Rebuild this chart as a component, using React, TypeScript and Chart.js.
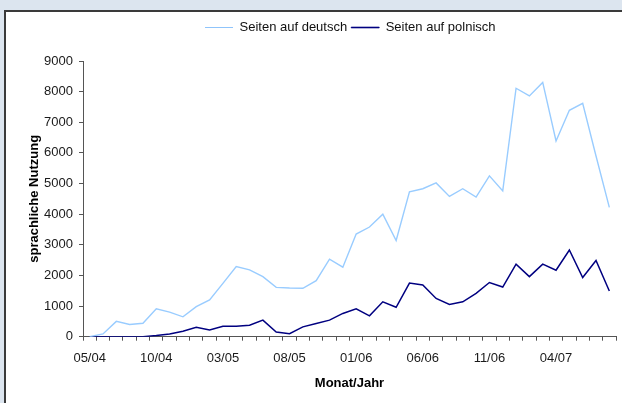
import React, { useEffect, useRef } from "react";
import { Chart, registerables } from "chart.js";

Chart.register(...registerables);

// ---- data ----
const months = [
  "05/04", "06/04", "07/04", "08/04", "09/04", "10/04", "11/04", "12/04",
  "01/05", "02/05", "03/05", "04/05", "05/05", "06/05", "07/05", "08/05",
  "09/05", "10/05", "11/05", "12/05", "01/06", "02/06", "03/06", "04/06",
  "05/06", "06/06", "07/06", "08/06", "09/06", "10/06", "11/06", "12/06",
  "01/07", "02/07", "03/07", "04/07", "05/07", "06/07", "07/07", "08/07",
];

const seitenDeutsch = [
  0, 90, 500, 400, 440, 910, 800, 650, 980, 1200,
  1740, 2290, 2180, 1960, 1610, 1590, 1580, 1830, 2530, 2270,
  3350, 3580, 4000, 3140, 4730, 4830, 5020, 4580, 4830, 4560,
  5250, 4760, 8110, 7860, 8300, 6390, 7390, 7620, 5900, 4220,
];

const seitenPolnisch = [
  0, 0, 0, 0, 0, 40, 90, 180, 310, 220,
  340, 340, 375, 540, 150, 100, 320, 430, 540, 760,
  910, 680, 1140, 960, 1750, 1690, 1250, 1055, 1140, 1415,
  1770, 1620, 2370, 1960, 2370, 2170, 2830, 1930, 2490, 1490,
];

const seriesNames = ["Seiten auf deutsch", "Seiten auf polnisch"];
const yTitle = "sprachliche Nutzung";
const xTitle = "Monat/Jahr";
const labelEvery = 5;

const FONT = '"Liberation Sans", Arial, sans-serif';
const LEGEND_START_X = 205;
const LEGEND_TOP = 17;

const legendShift = {
  id: "legendShift",
  afterLayout(chart: any) {
    const lg: any = chart.legend;
    if (!lg || !lg.lineWidths) return;
    const pad = 4;
    const cur = (lg.left + pad + lg.right - lg.lineWidths[0]) / 2;
    const d = LEGEND_START_X - cur;
    lg.left += d;
    lg.right += d;
    const dy = LEGEND_TOP - lg.top;
    lg.top += dy;
    lg.bottom += dy;
  },
};

export default function App() {
  const ref = useRef<HTMLCanvasElement | null>(null);

  useEffect(() => {
    if (!ref.current) return;
    const chart = new Chart(ref.current, {
      type: "line",
      data: {
        labels: months,
        datasets: [
          {
            label: seriesNames[0],
            data: seitenDeutsch,
            borderColor: "#99ccff",
            backgroundColor: "#99ccff",
            borderWidth: 1.4,
            pointRadius: 0,
            tension: 0,
          },
          {
            label: seriesNames[1],
            data: seitenPolnisch,
            borderColor: "#000080",
            backgroundColor: "#000080",
            borderWidth: 1.5,
            pointRadius: 0,
            tension: 0,
          },
        ],
      },
      options: {
        responsive: false,
        animation: false,
        layout: { padding: { left: 20, top: 17, right: 6, bottom: 0 } },
        plugins: {
          tooltip: { enabled: false },
          legend: {
            display: true,
            position: "top",
            labels: {
              font: { family: FONT, size: 13 },
              color: "#111",
              boxWidth: 28,
              boxHeight: 1,
              padding: 4,
              generateLabels: (c: any) => {
                const items = Chart.defaults.plugins.legend.labels.generateLabels(c);
                return items.map((it: any, i: number) => ({
                  ...it,
                  fillStyle: i === 0 ? "#8fc4fb" : "#000080",
                  strokeStyle: i === 0 ? "#8fc4fb" : "#000080",
                  lineWidth: i === 0 ? 0 : 0.6,
                }));
              },
            },
          },
        },
        scales: {
          x: {
            type: "category",
            offset: true,
            grid: {
              display: true,
              drawOnChartArea: false,
              drawTicks: true,
              tickLength: 4,
              offset: true,
              color: "#555",
            },
            border: { display: true, color: "#555", width: 1 },
            ticks: {
              autoSkip: false,
              maxRotation: 0,
              minRotation: 0,
              padding: 10,
              color: "#1a1a1a",
              font: { family: FONT, size: 13 },
              callback: (_v: any, i: number) => (i % labelEvery === 0 ? months[i] : ""),
            },
            title: {
              display: true,
              text: xTitle,
              color: "#000",
              font: { family: FONT, size: 13, weight: "bold" },
              padding: { top: 0, bottom: 12 },
            },
            afterFit: (s: any) => {
              s.height = 66.3;
            },
          },
          y: {
            min: 0,
            max: 9000,
            grid: {
              display: true,
              drawOnChartArea: false,
              drawTicks: true,
              tickLength: 4,
              color: "#555",
            },
            border: { display: true, color: "#555", width: 1 },
            ticks: {
              stepSize: 1000,
              padding: 6,
              color: "#1a1a1a",
              font: { family: FONT, size: 13 },
              callback: (v: any) => String(v),
            },
            title: {
              display: true,
              text: yTitle,
              color: "#000",
              font: { family: FONT, size: 13, weight: "bold" },
              padding: { top: 7, bottom: 0 },
            },
            afterFit: (s: any) => {
              s.width = 63;
              s.paddingTop = 61;
            },
          },
        },
      },
      plugins: [legendShift],
    } as any);
    return () => chart.destroy();
  }, []);

  return (
    <div
      style={{
        position: "fixed",
        left: 0,
        top: 0,
        width: 622,
        height: 403,
        overflow: "hidden",
        background: "#dce5ef",
      }}
    >
      <div
        style={{
          position: "absolute",
          left: 4,
          top: 10,
          width: 640,
          height: 420,
          background: "#fff",
          borderLeft: "2px solid #3a3a3a",
          borderTop: "2px solid #3a3a3a",
        }}
      />
      <canvas
        ref={ref}
        width={622}
        height={403}
        style={{ position: "absolute", left: 0, top: 0, display: "block" }}
      />
    </div>
  );
}
